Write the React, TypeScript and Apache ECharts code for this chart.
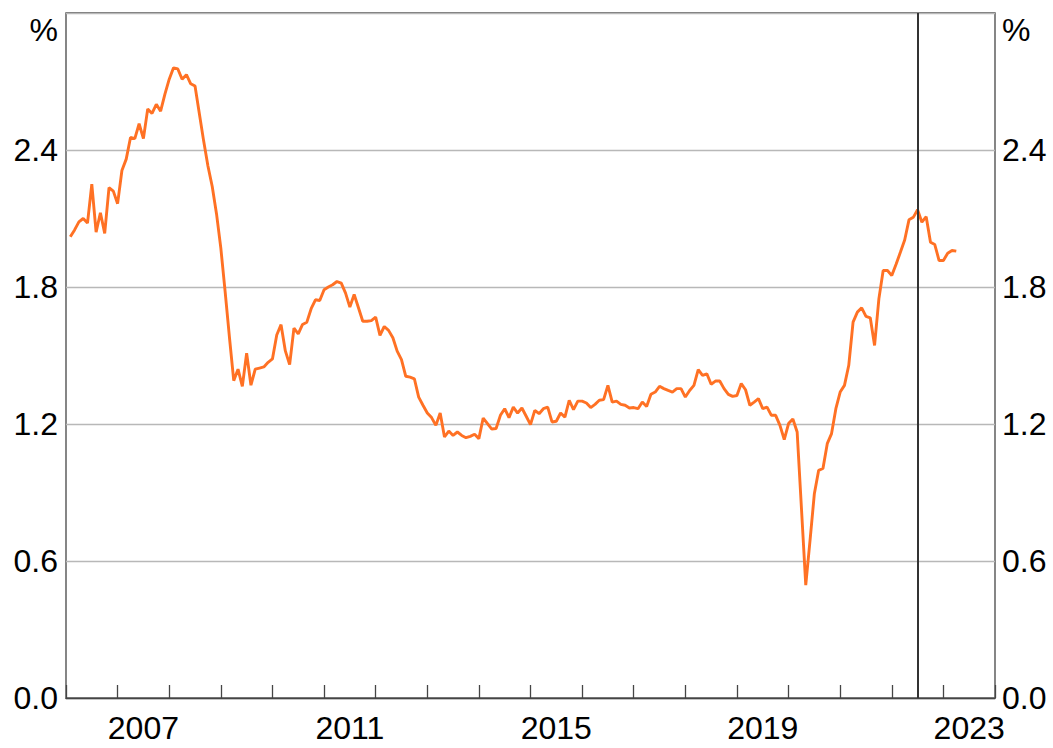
import React, { useEffect, useRef } from "react";
import * as echarts from "echarts";

// First observation: February 2006, monthly
const startYear = 2006;
const startMonth = 2;

// Monthly values, %, by calendar year
const v2006 = [2.02, 2.05, 2.085, 2.1, 2.08, 2.25, 2.04, 2.125, 2.035, 2.235, 2.22];
const v2007 = [2.165, 2.31, 2.36, 2.455, 2.45, 2.515, 2.45, 2.58, 2.56, 2.6, 2.57, 2.645];
const v2008 = [2.71, 2.76, 2.755, 2.71, 2.73, 2.69, 2.68, 2.56, 2.44, 2.33, 2.24, 2.12];
const v2009 = [1.97, 1.78, 1.58, 1.39, 1.44, 1.365, 1.51, 1.37, 1.44, 1.445, 1.45, 1.47];
const v2010 = [1.485, 1.59, 1.635, 1.52, 1.46, 1.62, 1.595, 1.636, 1.646, 1.705, 1.744, 1.741];
const v2011 = [1.788, 1.8, 1.81, 1.824, 1.817, 1.773, 1.712, 1.767, 1.709, 1.65, 1.65, 1.653];
const v2012 = [1.668, 1.588, 1.627, 1.61, 1.578, 1.519, 1.482, 1.409, 1.405, 1.398, 1.318, 1.282];
const v2013 = [1.248, 1.228, 1.194, 1.248, 1.143, 1.169, 1.15, 1.165, 1.15, 1.14, 1.146, 1.155];
const v2014 = [1.136, 1.226, 1.202, 1.178, 1.18, 1.238, 1.267, 1.228, 1.274, 1.248, 1.27, 1.234];
const v2015 = [1.197, 1.26, 1.245, 1.267, 1.274, 1.209, 1.212, 1.248, 1.23, 1.304, 1.263, 1.3];
const v2016 = [1.3, 1.292, 1.272, 1.286, 1.304, 1.307, 1.369, 1.296, 1.3, 1.286, 1.282, 1.27];
const v2017 = [1.272, 1.267, 1.296, 1.277, 1.33, 1.34, 1.365, 1.355, 1.347, 1.34, 1.355, 1.355];
const v2018 = [1.318, 1.347, 1.369, 1.438, 1.413, 1.42, 1.374, 1.388, 1.388, 1.355, 1.33, 1.321];
const v2019 = [1.325, 1.377, 1.35, 1.282, 1.296, 1.311, 1.267, 1.274, 1.238, 1.238, 1.194, 1.132];
const v2020 = [1.202, 1.222, 1.165, 0.83, 0.494, 0.691, 0.895, 0.997, 1.005, 1.114, 1.158, 1.267];
const v2021 = [1.34, 1.369, 1.457, 1.646, 1.69, 1.709, 1.671, 1.665, 1.544, 1.748, 1.872, 1.872];
const v2022 = [1.85, 1.9, 1.952, 2.006, 2.094, 2.105, 2.138, 2.084, 2.108, 1.996, 1.986, 1.916];
const v2023 = [1.916, 1.948, 1.96, 1.957];

const values = [
  ...v2006, ...v2007, ...v2008, ...v2009, ...v2010, ...v2011, ...v2012, ...v2013, ...v2014,
  ...v2015, ...v2016, ...v2017, ...v2018, ...v2019, ...v2020, ...v2021, ...v2022, ...v2023,
];

// Axis settings
const xMin = 2006;
const xMax = 2024;
const xLabels = ["2007", "2011", "2015", "2019", "2023"];
const yMin = 0;
const yMax = 3;
const yStep = 0.6;
const eventLine = 2022.5; // July 2022

const FONT = "'Liberation Sans', Arial, Helvetica, sans-serif";
const FRAME = "#454545";

export default function App() {
  const ref = useRef<HTMLDivElement>(null);

  useEffect(() => {
    if (!ref.current) return;
    const chart = echarts.init(ref.current, null, { renderer: "svg" });

    const data = values.map((v, i) => [startYear + (startMonth - 1 + i) / 12, v]);

    const yLabel = (v: number) => (v >= yMax - 0.01 ? "" : v.toFixed(1));

    chart.setOption({
      animation: false,
      grid: {
        left: 66,
        right: 58,
        top: 13,
        bottom: 50,
        show: true,
        borderColor: FRAME,
        borderWidth: 1.3,
        backgroundColor: "transparent",
      },
      xAxis: [
        {
          type: "value",
          min: xMin,
          max: xMax,
          interval: 1,
          position: "bottom",
          axisLine: { show: true, lineStyle: { color: FRAME, width: 1.3 } },
          axisTick: { show: true, inside: true, length: 13, lineStyle: { color: FRAME, width: 1.3 } },
          axisLabel: { show: false },
          splitLine: { show: false },
        },
        {
          type: "value",
          min: xMin,
          max: xMax,
          interval: 0.5,
          position: "bottom",
          offset: 0,
          axisLine: { show: false },
          axisTick: { show: false },
          splitLine: { show: false },
          axisLabel: {
            show: true,
            margin: 14,
            fontSize: 32,
            color: "#000",
            fontFamily: FONT,
            formatter: (v: number) => {
              if (Math.abs(v % 1 - 0.5) > 1e-6) return "";
              const s = String(Math.round(v - 0.5));
              return xLabels.includes(s) ? s : "";
            },
          },
        },
      ],
      yAxis: [
        {
          type: "value",
          min: yMin,
          max: yMax,
          interval: yStep,
          position: "left",
          axisLine: { show: false },
          axisTick: { show: false },
          splitLine: { show: true, lineStyle: { color: "#b8b8b8", width: 1.3 } },
          axisLabel: { margin: 8, fontSize: 32, color: "#000", fontFamily: FONT, formatter: yLabel },
        },
        {
          type: "value",
          min: yMin,
          max: yMax,
          interval: yStep,
          position: "right",
          axisLine: { show: false },
          axisTick: { show: false },
          splitLine: { show: false },
          axisLabel: { margin: 7, fontSize: 32, color: "#000", fontFamily: FONT, formatter: yLabel },
        },
      ],
      series: [
        {
          type: "line",
          xAxisIndex: 0,
          yAxisIndex: 0,
          data,
          showSymbol: false,
          symbol: "none",
          lineStyle: { color: "#FF7124", width: 2.9 },
          z: 3,
          markLine: {
            silent: true,
            symbol: ["none", "none"],
            label: { show: false },
            lineStyle: { color: "#333", width: 2, type: "solid" },
            data: [{ xAxis: eventLine }],
            z: 4,
          },
        },
      ],
      graphic: [
        {
          type: "text",
          x: 58,
          y: 14,
          style: { text: "%", align: "right", verticalAlign: "top", fontSize: 32, fill: "#000", fontFamily: FONT },
        },
        {
          type: "text",
          x: 1002,
          y: 14,
          style: { text: "%", align: "left", verticalAlign: "top", fontSize: 32, fill: "#000", fontFamily: FONT },
        },
      ],
    });

    return () => chart.dispose();
  }, []);

  return (
    <div
      ref={ref}
      style={{ position: "fixed", left: 0, top: 0, width: 1053, height: 748, background: "#fff" }}
    />
  );
}
